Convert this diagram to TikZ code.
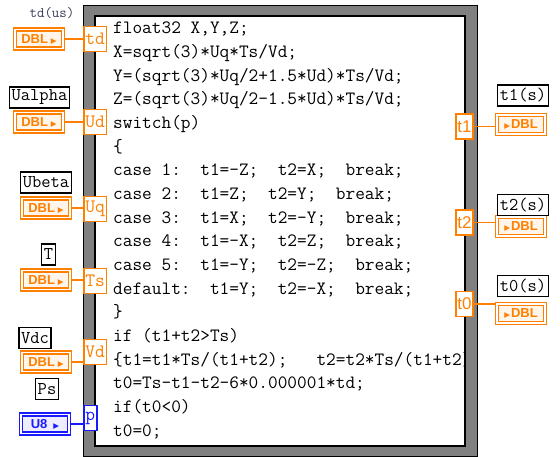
\documentclass[tikz,border=0pt]{standalone}
\usepackage{fontspec}
\usetikzlibrary{positioning}
\newfontfamily\tagfont{Liberation Sans}
\newfontfamily\symfont{DejaVu Sans}
\newcommand{\codefont}{\ttfamily\addfontfeature{FakeBold=0.4}}
\definecolor{dblwire}{HTML}{FF8000}
\definecolor{intwire}{HTML}{1A1AFF}
\definecolor{nodeframe}{HTML}{808080}
\definecolor{captext}{HTML}{3A3A5A}
\newcommand{\tri}{{\symfont\fontsize{7.5}{7.5}\selectfont ▶}}

\begin{document}
\begin{tikzpicture}[x=1pt, y=-1pt,
  code/.style={anchor=west, inner sep=0pt, text height=12pt, text depth=4pt,
               font=\fontsize{18.8}{23}\codefont},
  lbl/.style={draw=black, line width=1.2pt, fill=white, inner xsep=2pt,
              inner ysep=1.5pt, minimum height=21pt,
              font=\fontsize{18}{20}\codefont},
  term/.style={draw=dblwire, line width=1.8pt, fill=white, text=dblwire,
               inner sep=1.5pt, minimum height=25pt,
               font=\fontsize{19}{20}\codefont},
  outterm/.style={term, font=\tagfont\fontsize{17}{18}\selectfont},
  ctl/.style={draw=dblwire, line width=1.3pt, double=white, double distance=1.6pt,
              fill=dblwire!8, text=dblwire, minimum width=48pt, minimum height=19pt,
              inner sep=0pt, font=\tagfont\bfseries\fontsize{13}{13}\selectfont},
  u8ctl/.style={ctl, draw=intwire, fill=intwire!8, text=intwire},
  wire/.style={dblwire, line width=1.5pt},
  bluewire/.style={intwire, line width=1.5pt}]
  \useasboundingbox (0,0) rectangle (560,457);

  % formula node frame
  \filldraw[fill=nodeframe, draw=black, line width=0.8pt] (83,5) rectangle (477,456);
  \filldraw[fill=white, draw=black, line width=1.6pt] (95,16) rectangle (465,446);

  % code, cut off at the inner edge
  \begin{scope}
    \clip (95,16) rectangle (465,446);
    \foreach \src [count=\i from 0] in {
      {float32 X,Y,Z;},
      {X=sqrt(3)*Uq*Ts/Vd;},
      {Y=(sqrt(3)*Uq/2+1.5*Ud)*Ts/Vd;},
      {Z=(sqrt(3)*Uq/2-1.5*Ud)*Ts/Vd;},
      {switch(p)},
      {\{},
      {case~1:~~t1=-Z;~~t2=X;~~break;},
      {case~2:~~t1=Z;~~t2=Y;~~break;},
      {case~3:~~t1=X;~~t2=-Y;~~break;},
      {case~4:~~t1=-X;~~t2=Z;~~break;},
      {case~5:~~t1=-Y;~~t2=-Z;~~break;},
      {default:~~t1=Y;~~t2=-X;~~break;},
      {\}},
      {if~(t1+t2>Ts)},
      {\{t1=t1*Ts/(t1+t2);~~~t2=t2*Ts/(t1+t2);},
      {t0=Ts-t1-t2-6*0.000001*td;},
      {if(t0<0)},
      {t0=0;}}
      \node[code] (ln\i) at (113, 30+23.65*\i) {\src};
  \end{scope}

  % inputs
  \node[term, anchor=west] (td) at (83,39) {td};
  \node[term, anchor=west] (ud) at (83,122) {Ud};
  \node[term, anchor=west] (uq) at (83,209) {Uq};
  \node[term, anchor=west] (ts) at (83,281) {Ts};
  \node[term, anchor=west] (vd) at (83,352) {Vd};
  \node[term, anchor=west, draw=intwire, text=intwire] (p) at (83,418) {p};

  \node[ctl] (ctd) at (39,39) {DBL\hspace{3pt}\tri};
  \node[ctl] (cualpha) at (39,122) {DBL\hspace{3pt}\tri};
  \node[ctl] (cubeta) at (46,208) {DBL\hspace{3pt}\tri};
  \node[ctl] (ct) at (46,280) {DBL\hspace{3pt}\tri};
  \node[ctl] (cvdc) at (46,362) {DBL\hspace{3pt}\tri};
  \node[u8ctl] (cps) at (45,424) {U8\hspace{6pt}\tri};

  \node[text=captext, inner sep=0pt, font=\fontsize{14.5}{15}\codefont]
    (ltd) at (52,13) {td(us)};
  \node[lbl] (lualpha) at (39.5,97.5) {Ualpha};
  \node[lbl] (lubeta) at (46,182.5) {Ubeta};
  \node[lbl] (lt) at (48.5,254.5) {T};
  \node[lbl] (lvdc) at (35,338) {Vdc};
  \node[lbl] (lps) at (47,389) {Ps};

  \draw[wire] (ctd.east) -- (ctd.east -| td.west);
  \draw[wire] (cualpha.east) -- (cualpha.east -| ud.west);
  \draw[wire] (cubeta.east) -- (cubeta.east -| uq.west);
  \draw[wire] (ct.east) -- (ct.east -| ts.west);
  \draw[wire] (cvdc.east) -- (cvdc.east -| vd.west);
  \draw[bluewire] (cps.east) -- (cps.east -| p.west);

  % outputs
  \node[outterm, anchor=east] (t1) at (474,126.5) {t1};
  \node[outterm, anchor=east] (t2) at (474,222.5) {t2};
  \node[outterm, anchor=east] (t0) at (474,304) {t0};

  \node[ctl] (it1) at (521,124.5) {\tri\hspace{1pt}DBL};
  \node[ctl] (it2) at (521,226.5) {\tri\hspace{1pt}DBL};
  \node[ctl] (it0) at (521,313.5) {\tri\hspace{1pt}DBL};

  \node[lbl] (lt1) at (523,95.5) {t1(s)};
  \node[lbl] (lt2) at (523,205) {t2(s)};
  \node[lbl] (lt0) at (523,286) {t0(s)};

  \draw[wire] (t1.east) -- (t1.east -| it1.west);
  \draw[wire] (t2.east) -- (t2.east -| it2.west);
  \draw[wire] (t0.east) -- (t0.east -| it0.west);
\end{tikzpicture}
\end{document}
